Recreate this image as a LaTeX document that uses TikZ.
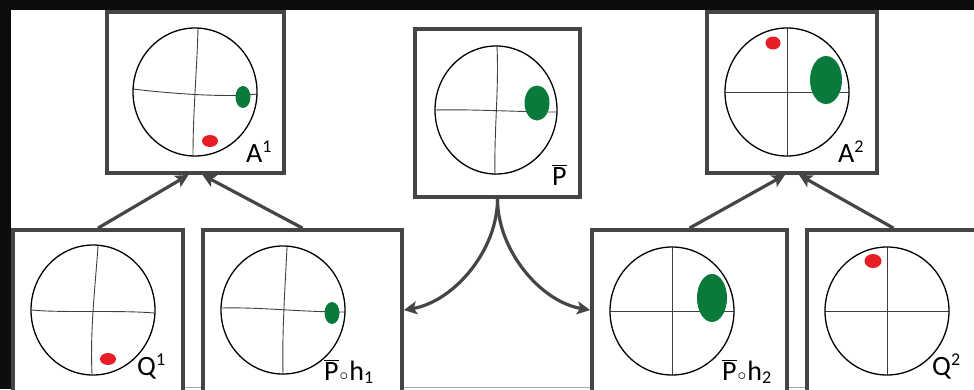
\documentclass[tikz,border=0pt]{standalone}
\usepackage{fontspec}
\setmainfont{Carlito}
\usetikzlibrary{arrows.meta}
\definecolor{boxgray}{HTML}{454545}
\definecolor{dotgreen}{RGB}{10,122,60}
\definecolor{dotred}{RGB}{232,30,38}
\newcommand{\pb}{$\overline{\hbox{P}}$}
\newcommand{\mysup}[1]{\raisebox{10pt}{\fontsize{18}{18}\selectfont #1}}
\newcommand{\mysub}[1]{\raisebox{-3pt}{\fontsize{18}{18}\selectfont #1}}
\newcommand{\mycirc}{\kern1pt{\fontsize{18}{18}\selectfont$\circ$}\kern1pt}
\begin{document}
\begin{tikzpicture}[x=1pt,y=-1pt,
  box/.style={draw=boxgray,line width=3.8pt,fill=white,inner sep=0pt},
  arr/.style={draw=boxgray,line width=3.2pt,-{Stealth[length=13pt,width=13pt,inset=3pt]}},
  globe/.style={draw=black,line width=1.3pt},
  grid/.style={draw=black!75,line width=0.9pt},
  lab/.style={anchor=base west,inner sep=0pt,font=\fontsize{28}{28}\selectfont},
  gdot/.style={fill=dotgreen},
  rdot/.style={fill=dotred}]
\useasboundingbox (0,0) rectangle (974,389);
\clip (0,0) rectangle (974,389);
\fill[black!95] (0,0) rectangle (974,389);
\fill[white] (11,10) rectangle (974,389);
\draw[black!35,line width=0.8pt] (11,387) -- (974,387);

% boxes
\node[box,minimum width=177pt,minimum height=161pt] (a1) at (195.5,92.5) {};
\node[box,minimum width=165pt,minimum height=168pt] (p) at (497.5,113) {};
\node[box,minimum width=170pt,minimum height=161pt] (a2) at (792,92.5) {};
\node[box,minimum width=170pt,minimum height=190pt] (q1) at (98,325) {};
\node[box,minimum width=199pt,minimum height=190pt] (p1) at (302.5,325) {};
\node[box,minimum width=195pt,minimum height=190pt] (p2) at (689.5,325) {};
\node[box,minimum width=173pt,minimum height=190pt] (q2) at (893.5,325) {};

% A1 globe
\draw[grid] (198,28) .. controls (197,70) and (193,110) .. (193,156);
\draw[grid] (133,89) .. controls (165,93) and (225,98) .. (257,94);
\draw[globe] (195,92) ellipse [x radius=62,y radius=64];
\fill[gdot] (243,97) ellipse [x radius=7.5,y radius=11];
\fill[rdot] (210,141) ellipse [x radius=8,y radius=6];
\node[lab] (la1) at (246,162) {A\mysup{1}};

% P bar globe
\draw[grid] (497,46) .. controls (499,90) and (494,130) .. (495,175);
\draw[grid] (435,110) .. controls (470,109) and (520,112) .. (557,112);
\draw[globe] (496,110) ellipse [x radius=61,y radius=64];
\fill[gdot] (537,103) ellipse [x radius=12.5,y radius=17.5];
\node[lab] (lp) at (552,185) {\pb};

% A2 globe
\draw[grid] (787,28) -- (787,156);
\draw[grid] (725,92) -- (849,92);
\draw[globe] (787,92) ellipse [x radius=62,y radius=64];
\fill[gdot] (826,80) ellipse [x radius=16,y radius=24];
\fill[rdot] (773,43) ellipse [x radius=7.5,y radius=6.5];
\node[lab] (la2) at (838,162) {A\mysup{2}};

% Q1 globe
\draw[grid] (98,246) .. controls (95,290) and (90,330) .. (92,374);
\draw[grid] (32,310) .. controls (60,313) and (120,310) .. (154,313);
\draw[globe] (93,310) ellipse [x radius=62,y radius=65];
\fill[rdot] (108,359) ellipse [x radius=8,y radius=6];
\node[lab] (lq1) at (137,375) {Q\mysup{1}};

% P bar o h1 globe
\draw[grid] (287,247) .. controls (285,290) and (282,330) .. (283,374);
\draw[grid] (222,308) .. controls (260,307) and (300,312) .. (345,312);
\draw[globe] (283,310) ellipse [x radius=62,y radius=64];
\fill[gdot] (332,313) ellipse [x radius=7.5,y radius=11];
\node[lab] (lp1) at (324,380) {\pb\mycirc h\mysub{1}};

% P bar o h2 globe
\draw[grid] (672,247) -- (672,375);
\draw[grid] (610,311) -- (734,311);
\draw[globe] (672,311) ellipse [x radius=62,y radius=64];
\fill[gdot] (712,298) ellipse [x radius=15,y radius=24];
\node[lab] (lp2) at (722,380) {\pb\mycirc h\mysub{2}};

% Q2 globe
\draw[grid] (887,247) -- (887,375);
\draw[grid] (825,311) -- (949,311);
\draw[globe] (887,311) ellipse [x radius=62,y radius=64];
\fill[rdot] (873,261) ellipse [x radius=8.5,y radius=7];
\node[lab] (lq2) at (932,375) {Q\mysup{2}};

% connectors
\draw[arr] (q1.north) -- ([xshift=-7pt]a1.south);
\draw[arr] (p1.north) -- ([xshift=7pt]a1.south);
\draw[arr] (p2.north) -- ([xshift=-7pt]a2.south);
\draw[arr] (q2.north) -- ([xshift=7pt]a2.south);
\draw[arr] (p.south) to[out=-90,in=10,looseness=0.9] ([yshift=-82pt]p1.north east);
\draw[arr] (p.south) to[out=-90,in=170,looseness=0.9] ([yshift=-82pt]p2.north west);
\end{tikzpicture}
\end{document}
